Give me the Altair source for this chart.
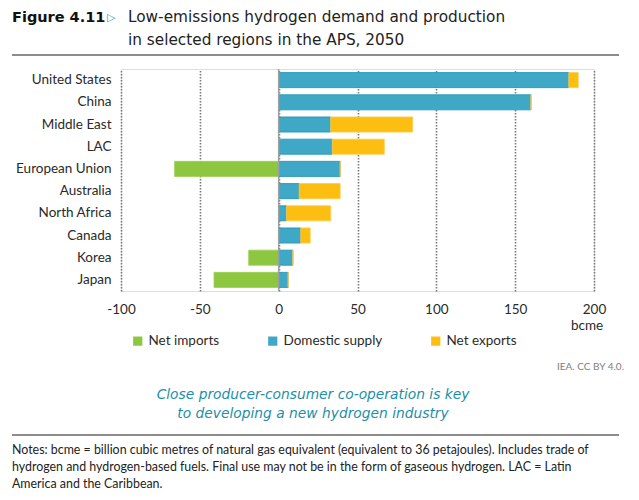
import altair as alt
import pandas as pd

regions = ["United States", "China", "Middle East", "LAC", "European Union",
           "Australia", "North Africa", "Canada", "Korea", "Japan"]
net_imports = [0, 0, 0, 0, -66, 0, 0, 0, -19, -41]
domestic = [184, 160, 33, 34, 39, 13, 5, 14, 9, 6]
net_exports = [6, 0, 52, 33, 0, 26, 28, 6, 0, 0]

series = ["Net imports", "Domestic supply", "Net exports"]
colors = ["#8DC63F", "#3EA8C6", "#FDBE12"]
ticks = [-100, -50, 0, 50, 100, 150, 200]

rows = []
for i, r in enumerate(regions):
    for k, (s, vals) in enumerate(zip(series, [net_imports, domestic, net_exports])):
        rows.append({"region": r, "series": s, "value": vals[i], "ord": k})
df = pd.DataFrame(rows)

BODY = "Lato"
TITLE = "DejaVu Sans"

bars = alt.Chart(df).mark_bar(strokeWidth=1, strokeOpacity=0.8).encode(
    y=alt.Y("region:N", sort=regions, title=None,
            scale=alt.Scale(paddingInner=0.32, paddingOuter=0.16),
            axis=alt.Axis(domain=False, ticks=False, labelFont=BODY, labelFontSize=13.5,
                          labelColor="#2a2a2a", labelPadding=10, grid=False)),
    x=alt.X("value:Q", stack="zero", title=None,
            scale=alt.Scale(domain=[-100, 200], nice=False),
            axis=alt.Axis(values=ticks, domain=False, ticks=False, grid=True,
                          gridDash=[1.5, 1.5], gridColor="#7a7a7a", gridWidth=1.6,
                          labelFlush=False, labelExpr="'' + datum.value",
                          labelFont=BODY, labelFontSize=13.5, labelColor="#2a2a2a",
                          labelPadding=11)),
    color=alt.Color("series:N", sort=series,
                    scale=alt.Scale(domain=series, range=colors),
                    legend=alt.Legend(orient="none", legendX=10, legendY=265,
                                      direction="horizontal", title=None,
                                      symbolType="square", symbolSize=85,
                                      symbolStrokeWidth=0, labelFont=BODY,
                                      labelFontSize=13.5, labelColor="#2a2a2a",
                                      columnPadding=46, labelOffset=4)),
    stroke=alt.Color("series:N", sort=series,
                     scale=alt.Scale(domain=series, range=["#9BCF55", "#1C96B5", "#FDCB50"]),
                     legend=None),
    order=alt.Order("ord:Q"),
)

zero = alt.Chart(pd.DataFrame({"z": [0]})).mark_rule(color="#a0a0a0", strokeWidth=1.5).encode(
    x="z:Q")


def txt(t, x, y, **kw):
    return alt.Chart(pd.DataFrame({"t": [t]})).mark_text(**kw).encode(
        text="t:N", x=alt.value(x), y=alt.value(y))


def hline(x1, x2, y, **kw):
    return alt.Chart(pd.DataFrame({"a": [0]})).mark_rule(**kw).encode(
        x=alt.value(x1), x2=alt.value(x2), y=alt.value(y))


OX, OY = 121, 69  # plot origin in page coordinates

layers = [
    bars, zero,
    txt("Figure 4.11", 12 - OX, 22 - OY, font=TITLE, fontSize=14.5, fontWeight="bold",
        align="left", baseline="alphabetic", color="#111111"),
    txt("▷", 107 - OX, 21 - OY, font=TITLE, fontSize=11, fontWeight="bold",
        align="left", baseline="alphabetic", color="#1a9bb8"),
    txt("Low-emissions hydrogen demand and production", 128 - OX, 22 - OY, font=TITLE,
        fontSize=15.3, align="left", baseline="alphabetic", color="#222222"),
    txt("in selected regions in the APS, 2050", 128 - OX, 45 - OY, font=TITLE,
        fontSize=15.3, align="left", baseline="alphabetic", color="#222222"),
    hline(12 - OX, 619 - OX, 55 - OY, color="#8c8c8c", strokeWidth=2),
    txt("bcme", 587 - OX, 326 - OY, font=BODY, fontSize=13.5, align="center",
        baseline="middle", color="#2a2a2a"),
    txt("IEA. CC BY 4.0.", 624 - OX, 367 - OY, font=BODY, fontSize=10, align="right",
        baseline="middle", color="#808080"),
    txt("Close producer-consumer co-operation is key", 313 - OX, 395 - OY, font=TITLE,
        fontSize=13.8, fontStyle="italic", align="center", baseline="middle",
        color="#1B8FA8"),
    txt("to developing a new hydrogen industry", 313 - OX, 414 - OY, font=TITLE,
        fontSize=13.8, fontStyle="italic", align="center", baseline="middle",
        color="#1B8FA8"),
    hline(12 - OX, 619 - OX, 435 - OY, color="#8c8c8c", strokeWidth=2),
    txt("Notes: bcme = billion cubic metres of natural gas equivalent (equivalent to 36 petajoules). Includes trade of",
        12 - OX, 450 - OY, font=BODY, fontSize=12.4, align="left", baseline="middle", color="#222222"),
    txt("hydrogen and hydrogen-based fuels. Final use may not be in the form of gaseous hydrogen. LAC = Latin",
        12 - OX, 467 - OY, font=BODY, fontSize=12.4, align="left", baseline="middle", color="#222222"),
    txt("America and the Caribbean.",
        12 - OX, 484 - OY, font=BODY, fontSize=12.4, align="left", baseline="middle", color="#222222"),
]

chart = alt.layer(*layers).properties(
    width=473, height=222,
    autosize=alt.AutoSizeParams(type="none"),
    padding={"left": 113, "top": 61, "right": 30, "bottom": 200},
).configure_view(stroke=None).configure(background="white")

chart.save("out.html", embed_options={"renderer": "svg", "actions": False})
